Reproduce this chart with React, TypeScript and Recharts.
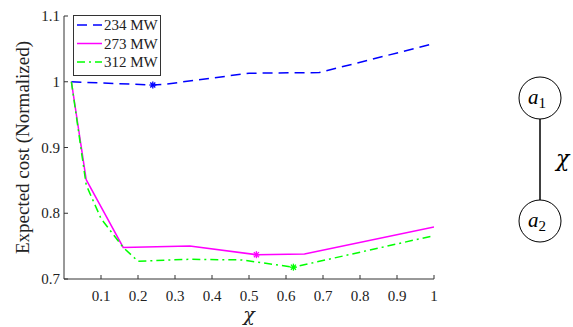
import React from "react"
import { LineChart, Line, XAxis, YAxis } from "recharts"

// chi vs normalized expected cost, one series per load level
const mw234 = [
 { x: 0.02, y: 1.0 },
 { x: 0.24, y: 0.995 },
 { x: 0.27, y: 0.996 },
 { x: 0.5, y: 1.013 },
 { x: 0.69, y: 1.014 },
 { x: 1.0, y: 1.058 },
]
const mw273 = [
 { x: 0.02, y: 1.0 },
 { x: 0.06, y: 0.851 },
 { x: 0.16, y: 0.748 },
 { x: 0.34, y: 0.75 },
 { x: 0.52, y: 0.737 },
 { x: 0.65, y: 0.738 },
 { x: 1.0, y: 0.779 },
]
const mw312 = [
 { x: 0.02, y: 1.0 },
 { x: 0.06, y: 0.843 },
 { x: 0.1, y: 0.792 },
 { x: 0.16, y: 0.748 },
 { x: 0.2, y: 0.727 },
 { x: 0.34, y: 0.73 },
 { x: 0.48, y: 0.729 },
 { x: 0.62, y: 0.718 },
 { x: 1.0, y: 0.766 },
]
const xTicks = [0.1, 0.2, 0.3, 0.4, 0.5, 0.6, 0.7, 0.8, 0.9, 1]
const yTicks = [0.7, 0.8, 0.9, 1, 1.1]

const series = [
 { name: "234 MW", data: mw234, color: "#0000ff", dash: "10 6" },
 { name: "273 MW", data: mw273, color: "#ff00ff", dash: undefined },
 { name: "312 MW", data: mw312, color: "#00ff00", dash: "8 4 2 4" },
]

const FONT = "'Liberation Serif', 'DejaVu Serif', serif"
const GREEK = "'DejaVu Serif', serif"
const TXT = "#222"

// MATLAB style '*' marker on the minimum of each curve
const starDot = (data: { x: number; y: number }[], color: string) => {
 const minY = Math.min(...data.map((d) => d.y))
 return (props: any) => {
  const { cx, cy, index } = props
  if (data[index].y !== minY || cx == null) return <g key={index} />
  const r = 3.5
  const d = r * 0.72
  return (
   <g key={index} stroke={color} strokeWidth={1.3}>
    <line x1={cx - r} y1={cy} x2={cx + r} y2={cy} />
    <line x1={cx} y1={cy - r} x2={cx} y2={cy + r} />
    <line x1={cx - d} y1={cy - d} x2={cx + d} y2={cy + d} />
    <line x1={cx - d} y1={cy + d} x2={cx + d} y2={cy - d} />
   </g>
  )
 }
}

const XTick = (props: any) => {
 const { x, y, payload } = props
 return (
  <text x={x} y={y + 9} textAnchor="middle" style={{ fontSize: 15, fontFamily: FONT }} fill={TXT}>
   {String(payload.value)}
  </text>
 )
}

const YTick = (props: any) => {
 const { x, y, payload } = props
 return (
  <text x={x} y={y + 5} textAnchor="end" style={{ fontSize: 15, fontFamily: FONT }} fill={TXT}>
   {String(payload.value)}
  </text>
 )
}

const YLabel = (props: any) => {
 const vb = props.viewBox
 const cy = vb.y + vb.height / 2
 return (
  <text
   x={29}
   y={cy}
   transform={`rotate(-90, 29, ${cy})`}
   textAnchor="middle"
   style={{ fontSize: 19, fontFamily: FONT }}
   fill={TXT}>
   Expected cost (Normalized)
  </text>
 )
}

const XLabel = (props: any) => {
 const vb = props.viewBox
 return (
  <text x={vb.x + vb.width / 2} y={321} textAnchor="middle" style={{ fontSize: 19, fontStyle: "italic", fontFamily: GREEK }} fill={TXT}>
   χ
  </text>
 )
}

const LegendBox = () => (
 <svg width={88} height={61} style={{ position: "absolute", left: 73, top: 15 }}>
  <rect x={0.5} y={0.5} width={87} height={60} fill="#fff" stroke="#333" strokeWidth={1} />
  {series.map((s, i) => {
   const y = 10 + i * 18.5
   return (
    <g key={s.name}>
     <line x1={4} y1={y} x2={29} y2={y} stroke={s.color} strokeWidth={1.5} strokeDasharray={s.dash} />
     <text x={31} y={y + 5} style={{ fontSize: 15, fontFamily: FONT }} fill={TXT}>
      {s.name}
     </text>
    </g>
   )
  })}
 </svg>
)

const Diagram = () => (
 <svg width={573} height={327} style={{ position: "absolute", left: 0, top: 0, pointerEvents: "none" }}>
  <line x1={540} y1={119} x2={540} y2={200} stroke="#000" strokeWidth={1.5} />
  <circle cx={540} cy={98} r={21} fill="#fff" stroke="#000" strokeWidth={1} />
  <circle cx={540} cy={221} r={21} fill="#fff" stroke="#000" strokeWidth={1} />
  <text x={528} y={104} style={{ fontSize: 21, fontStyle: "italic", fontFamily: FONT }}>
   a<tspan style={{ fontSize: 15, fontStyle: "normal" }} dy={4}>1</tspan>
  </text>
  <text x={528} y={227} style={{ fontSize: 21, fontStyle: "italic", fontFamily: FONT }}>
   a<tspan style={{ fontSize: 15, fontStyle: "normal" }} dy={4}>2</tspan>
  </text>
  <text x={556} y={166} style={{ fontSize: 22, fontStyle: "italic", fontFamily: GREEK }}>
   χ
  </text>
 </svg>
)

export default function App() {
 return (
  <div style={{ position: "absolute", left: 0, top: 0, width: 573, height: 327, background: "#fff" }}>
   <LineChart width={573} height={327} margin={{ top: 16, right: 139, bottom: 20, left: 0 }}>
    <XAxis
     type="number"
     dataKey="x"
     domain={[0, 1]}
     ticks={xTicks}
     allowDataOverflow
     tickSize={-4}
     tickMargin={17}
     height={28}
     stroke="#333"
     tick={<XTick />}
     label={<XLabel />}
    />
    <YAxis
     type="number"
     domain={[0.7, 1.1]}
     ticks={yTicks}
     allowDataOverflow
     tickSize={-4}
     tickMargin={8}
     width={64}
     stroke="#333"
     tick={<YTick />}
     label={<YLabel />}
    />
    {series.map((s) => (
     <Line
      key={s.name}
      data={s.data}
      dataKey="y"
      name={s.name}
      type="linear"
      stroke={s.color}
      strokeWidth={1.5}
      strokeDasharray={s.dash}
      dot={starDot(s.data, s.color)}
      activeDot={false}
      isAnimationActive={false}
     />
    ))}
   </LineChart>
   <LegendBox />
   <Diagram />
  </div>
 )
}
